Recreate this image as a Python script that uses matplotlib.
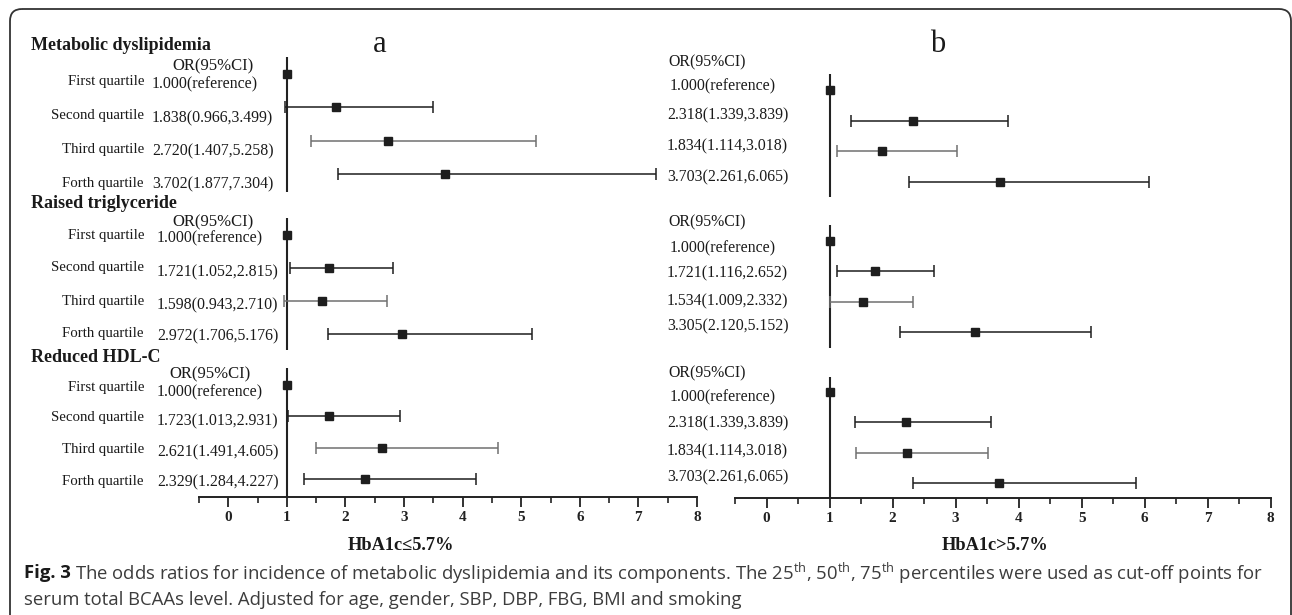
import matplotlib
matplotlib.use("Agg")
import matplotlib.pyplot as plt
from matplotlib.patches import FancyBboxPatch
import numpy as np

# ---------------- data ----------------
rows = ["First quartile", "Second quartile", "Third quartile", "Forth quartile"]
sections = ["Metabolic dyslipidemia", "Raised triglyceride", "Reduced HDL-C"]

# panel a (HbA1c <= 5.7%)
a_md_or = [1.000, 1.838, 2.720, 3.702]
a_md_lo = [np.nan, 0.966, 1.407, 1.877]
a_md_hi = [np.nan, 3.499, 5.258, 7.304]
a_tg_or = [1.000, 1.721, 1.598, 2.972]
a_tg_lo = [np.nan, 1.052, 0.943, 1.706]
a_tg_hi = [np.nan, 2.815, 2.710, 5.176]
a_hdl_or = [1.000, 1.723, 2.621, 2.329]
a_hdl_lo = [np.nan, 1.013, 1.491, 1.284]
a_hdl_hi = [np.nan, 2.931, 4.605, 4.227]
a_labels = [["1.000(reference)", "1.838(0.966,3.499)", "2.720(1.407,5.258)", "3.702(1.877,7.304)"],
            ["1.000(reference)", "1.721(1.052,2.815)", "1.598(0.943,2.710)", "2.972(1.706,5.176)"],
            ["1.000(reference)", "1.723(1.013,2.931)", "2.621(1.491,4.605)", "2.329(1.284,4.227)"]]

# panel b (HbA1c > 5.7%)
b_md_or = [1.000, 2.318, 1.834, 3.703]
b_md_lo = [np.nan, 1.339, 1.114, 2.261]
b_md_hi = [np.nan, 3.839, 3.018, 6.065]
b_tg_or = [1.000, 1.721, 1.534, 3.305]
b_tg_lo = [np.nan, 1.116, 1.009, 2.120]
b_tg_hi = [np.nan, 2.652, 2.332, 5.152]
b_hdl_or = [1.000, 2.22, 2.23, 3.69]      # as drawn in the figure
b_hdl_lo = [np.nan, 1.40, 1.42, 2.33]
b_hdl_hi = [np.nan, 3.56, 3.52, 5.86]
b_labels = [["1.000(reference)", "2.318(1.339,3.839)", "1.834(1.114,3.018)", "3.703(2.261,6.065)"],
            ["1.000(reference)", "1.721(1.116,2.652)", "1.534(1.009,2.332)", "3.305(2.120,5.152)"],
            ["1.000(reference)", "2.318(1.339,3.839)", "1.834(1.114,3.018)", "3.703(2.261,6.065)"]]

x_ticks = [0, 1, 2, 3, 4, 5, 6, 7, 8]
xlabels = ["HbA1c\u22645.7%", "HbA1c>5.7%"]
header = "OR(95%CI)"

# ---------------- layout (pixels) ----------------
W, H = 1292, 615
SERIF = ["Liberation Serif", "DejaVu Serif"]
DARK = "#1e1e1e"
GRAY = "#707070"
ROW_FS = 10.7
VAL_FS = 11.4
HDR_FS = 12

fig = plt.figure(figsize=(W / 100, H / 100), dpi=100)
fig.patch.set_facecolor("white")
bg = fig.add_axes([0, 0, 1, 1])
bg.set_xlim(0, W)
bg.set_ylim(H, 0)
bg.axis("off")

# rounded frame
frame = FancyBboxPatch((10, 9), 1281, 700, boxstyle="round,pad=0,rounding_size=12",
                       fc="none", ec="#333333", lw=1.3)
bg.add_patch(frame)


def make_panel(x0, x1, ybot):
    ax = fig.add_axes([x0 / W, 1 - ybot / H, (x1 - x0) / W, ybot / H])
    ax.set_facecolor("none")
    ax.set_xlim(-0.5, 8)
    ax.set_ylim(ybot, 0)
    for s in ["top", "left", "right"]:
        ax.spines[s].set_visible(False)
    ax.spines["bottom"].set_linewidth(1.4)
    ax.spines["bottom"].set_color("#222222")
    ax.set_yticks([])
    ax.set_xticks(x_ticks)
    ax.set_xticks(np.arange(-0.5, 8, 1.0), minor=True)
    ax.tick_params(axis="x", which="major", direction="out", length=7, width=1.3,
                   color="#222222", pad=3)
    ax.tick_params(axis="x", which="minor", direction="out", length=4, width=1.2,
                   color="#222222")
    ax.set_xticklabels([str(t) for t in x_ticks], fontfamily=SERIF, fontweight="bold",
                       fontsize=11, color="#222222")
    return ax


axA = make_panel(199, 697, 497)
axB = make_panel(735, 1270.7, 498)


def draw_section(ax, ors, los, his, ys, ref):
    ax.vlines(1, ref[0], ref[1], color="#222222", lw=1.5, zorder=2)
    for i, (o, lo, hi, y) in enumerate(zip(ors, los, his, ys)):
        col = GRAY if i == 2 else DARK
        if not np.isnan(lo):
            ax.errorbar([o], [y], xerr=[[o - lo], [hi - o]], fmt="none", ecolor=col,
                        elinewidth=1.1, capsize=4, capthick=1.1, zorder=3)
        ax.plot([o], [y], marker="s", ms=6, color=DARK, mec=DARK, ls="none", zorder=4)


# ----- panel a -----
a_data = [(a_md_or, a_md_lo, a_md_hi), (a_tg_or, a_tg_lo, a_tg_hi), (a_hdl_or, a_hdl_lo, a_hdl_hi)]
a_title_y = [46, 203, 358]
a_header = [(213, 66), (213, 222), (210, 374)]
a_rowlab_y = [[82, 116, 150, 183], [236, 268, 301, 334], [387, 418, 450, 482]]
a_val_x = [152, 157, 157]
a_val_y = [[84, 118, 151, 184], [238, 272, 305, 336], [392, 421, 452, 482]]
a_mark_y = [[74, 107, 141, 174], [235, 268, 301, 334], [385, 416, 448, 479]]
a_ref = [(57, 192), (218, 350), (368, 497)]

for k in range(3):
    o, lo, hi = a_data[k]
    draw_section(axA, o, lo, hi, a_mark_y[k], a_ref[k])
    bg.text(31, a_title_y[k], sections[k], fontfamily=SERIF, fontweight="bold",
            fontsize=13, ha="left", va="center", color="#1a1a1a")
    bg.text(a_header[k][0], a_header[k][1], header, fontfamily=SERIF, fontsize=HDR_FS,
            ha="center", va="center", color="#1a1a1a")
    for i in range(4):
        bg.text(144, a_rowlab_y[k][i], rows[i], fontfamily=SERIF, fontsize=ROW_FS,
                ha="right", va="center", color="#1a1a1a")
        bg.text(a_val_x[k], a_val_y[k][i], a_labels[k][i], fontfamily=SERIF, fontsize=VAL_FS,
                ha="left", va="center", color="#1a1a1a")

# ----- panel b -----
b_data = [(b_md_or, b_md_lo, b_md_hi), (b_tg_or, b_tg_lo, b_tg_hi), (b_hdl_or, b_hdl_lo, b_hdl_hi)]
b_header_y = [62, 222, 373]
b_val_y = [[86, 115, 146, 177], [248, 273, 301, 326], [397, 423, 451, 477]]
b_mark_y = [[90, 121, 151, 182], [241, 271, 302, 332], [392, 422, 453, 483]]
b_ref = [(74, 197), (225, 348), (377, 498)]

for k in range(3):
    o, lo, hi = b_data[k]
    draw_section(axB, o, lo, hi, b_mark_y[k], b_ref[k])
    bg.text(668, b_header_y[k], header, fontfamily=SERIF, fontsize=HDR_FS - 0.6,
            ha="left", va="center", color="#1a1a1a")
    for i in range(4):
        bg.text(670 if i == 0 else 667, b_val_y[k][i], b_labels[k][i], fontfamily=SERIF,
                fontsize=VAL_FS, ha="left", va="center", color="#1a1a1a")

# panel letters
bg.text(380, 44, "a", fontfamily=SERIF, fontsize=22, ha="center", va="center", color="#1a1a1a")
bg.text(938, 44, "b", fontfamily=SERIF, fontsize=22, ha="center", va="center", color="#1a1a1a")

# x labels
bg.text(401, 545, xlabels[0], fontfamily=SERIF, fontweight="bold", fontsize=13.2,
        ha="center", va="center", color="#1a1a1a")
bg.text(995, 545, xlabels[1], fontfamily=SERIF, fontweight="bold", fontsize=13.2,
        ha="center", va="center", color="#1a1a1a")

# ----- caption -----
plt.rcParams["mathtext.fontset"] = "custom"
plt.rcParams["mathtext.rm"] = "Open Sans"
CAP = ["Open Sans", "DejaVu Sans"]
cap_fs = 13.3
fig.canvas.draw()
r = fig.canvas.get_renderer()
t0 = bg.text(24, 573, "Fig. 3", fontfamily=CAP, fontweight="bold", fontsize=cap_fs,
             ha="left", va="center", color="#1a1a1a")
ext = t0.get_window_extent(renderer=r)
bg.text(ext.x1 + 4, 573,
        r"The odds ratios for incidence of metabolic dyslipidemia and its components. The 25$^{\mathregular{th}}$, 50$^{\mathregular{th}}$, 75$^{\mathregular{th}}$ percentiles were used as cut-off points for",
        fontfamily=CAP, fontsize=cap_fs, ha="left", va="center", color="#3c3c3c")
bg.text(24, 600, "serum total BCAAs level. Adjusted for age, gender, SBP, DBP, FBG, BMI and smoking",
        fontfamily=CAP, fontsize=cap_fs, ha="left", va="center", color="#3c3c3c")

fig.savefig("out.png", dpi=100)
